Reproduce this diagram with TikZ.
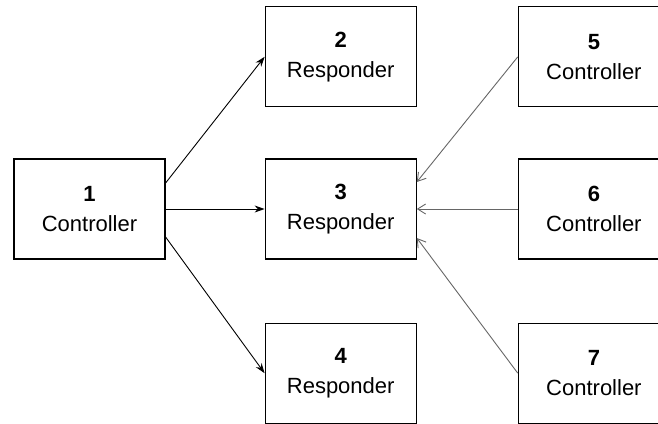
\documentclass[tikz,border=0pt]{standalone}
\usepackage{fontspec}
\setmainfont{Liberation Sans}
\usetikzlibrary{positioning,arrows.meta}
\begin{document}
\begin{tikzpicture}[node distance=49.5pt]
    \tikzstyle{unitbox} = [rectangle, minimum width=75.5pt, minimum height=50pt,
      align=center, draw=black, line width=0.6pt, inner sep=0pt,
      font=\fontsize{11}{15}\selectfont]
    \tikzstyle{sendarrow} = [line width=0.45pt, -{Stealth[length=5pt,width=3.5pt]}]
    \tikzstyle{backarrow} = [line width=0.45pt, black!60, -{Straight Barb[length=4pt,width=5pt]}]

    \useasboundingbox (0,0) rectangle (329pt,-211.5pt);

    \node (ctrl1) [unitbox] at (44.75pt,-104.5pt) {\textbf{1}\\Controller};
    \node (resp3) [unitbox, right=of ctrl1] {\textbf{3}\\Responder};
    \node (resp2) [unitbox, above=25.5pt of resp3] {\textbf{2}\\Responder};
    \node (resp4) [unitbox, below=31.5pt of resp3] {\textbf{4}\\Responder};
    \node (ctrl6) [unitbox, right=50.5pt of resp3] {\textbf{6}\\Controller};
    \node (ctrl5) [unitbox, right=50.5pt of resp2] {\textbf{5}\\Controller};
    \node (ctrl7) [unitbox, right=50.5pt of resp4] {\textbf{7}\\Controller};

    \draw [sendarrow] ([yshift=13pt]ctrl1.east) -- (resp2.west);
    \draw [sendarrow] (ctrl1.east) -- (resp3.west);
    \draw [sendarrow] ([yshift=-14pt]ctrl1.east) -- (resp4.west);
    \draw [backarrow] (ctrl5.west) -- ([yshift=13.5pt]resp3.east);
    \draw [backarrow] (ctrl6.west) -- (resp3.east);
    \draw [backarrow] (ctrl7.west) -- ([yshift=-14.5pt]resp3.east);
  \end{tikzpicture}
\end{document}
